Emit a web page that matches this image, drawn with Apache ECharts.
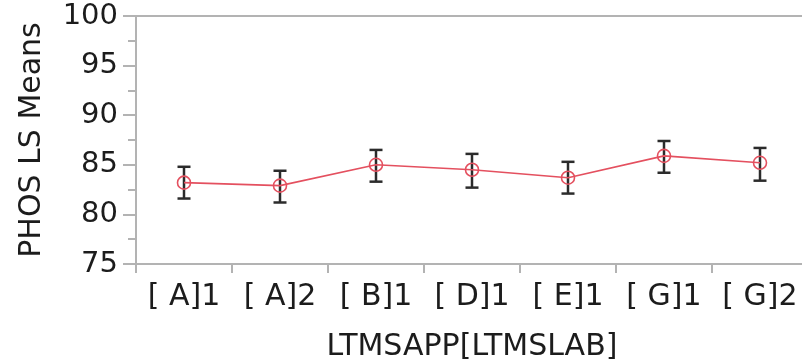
<!DOCTYPE html>
<html>
<head>
<meta charset="utf-8">
<script src="https://cdn.jsdelivr.net/npm/echarts@6/dist/echarts.min.js"></script>
<style>
  html, body { margin: 0; padding: 0; background: #fff; }
  #chart { width: 802px; height: 359px; }
</style>
</head>
<body>
<div id="chart"></div>
<script>
// LS means of PHOS per application/lab, with confidence intervals
var categories = ['[ A]1', '[ A]2', '[ B]1', '[ D]1', '[ E]1', '[ G]1', '[ G]2'];
var means = [83.2, 82.9, 85.0, 84.5, 83.7, 85.9, 85.2];
var lower = [81.6, 81.2, 83.3, 82.7, 82.1, 84.2, 83.4];
var upper = [84.8, 84.4, 86.5, 86.1, 85.3, 87.4, 86.7];

var FONT = '"DejaVu Sans", sans-serif';
var AXIS_GRAY = '#b3b3b3';
var TEXT = '#1c1c1c';

var errorData = categories.map(function (c, i) { return [i, lower[i], upper[i]]; });

var chart = echarts.init(document.getElementById('chart'), null, { renderer: 'canvas' });

chart.setOption({
  animation: false,
  grid: {
    left: 136, top: 16, width: 672, height: 248,
    outerBoundsMode: 'none',
    containLabel: false,
    show: true, borderColor: AXIS_GRAY, borderWidth: 2, backgroundColor: '#fff'
  },
  xAxis: {
    type: 'category',
    data: categories,
    boundaryGap: true,
    name: 'LTMSAPP[LTMSLAB]',
    nameLocation: 'middle',
    nameGap: 68,
    nameTextStyle: { fontFamily: FONT, fontSize: 30, color: TEXT },
    axisLine: { lineStyle: { color: AXIS_GRAY, width: 2 } },
    axisTick: { show: true, inside: false, length: 9, alignWithLabel: false, lineStyle: { color: AXIS_GRAY, width: 2 } },
    axisLabel: { fontFamily: FONT, fontSize: 30, color: TEXT, margin: 18, interval: 0 },
    splitLine: { show: false }
  },
  yAxis: {
    type: 'value',
    min: 75, max: 100, interval: 5,
    name: 'PHOS LS Means',
    nameLocation: 'middle',
    nameRotate: 90,
    nameGap: 89,
    nameTextStyle: { fontFamily: FONT, fontSize: 30, color: TEXT },
    axisLine: { show: true, lineStyle: { color: AXIS_GRAY, width: 2 } },
    axisTick: { show: true, inside: false, length: 13, lineStyle: { color: AXIS_GRAY, width: 2 } },
    minorTick: { show: true, splitNumber: 2, length: 8, lineStyle: { color: AXIS_GRAY, width: 2 } },
    axisLabel: { fontFamily: FONT, fontSize: 29, color: TEXT, margin: 18 },
    splitLine: { show: false }
  },
  series: [
    {
      type: 'custom',
      data: errorData,
      z: 3,
      renderItem: function (params, api) {
        var x = api.value(0);
        var lo = api.coord([x, api.value(1)]);
        var hi = api.coord([x, api.value(2)]);
        var half = 6.5;
        var style = { stroke: '#2b2b2b', lineWidth: 2.5 };
        return {
          type: 'group',
          children: [
            { type: 'line', shape: { x1: hi[0], y1: hi[1], x2: lo[0], y2: lo[1] }, style: style },
            { type: 'line', shape: { x1: hi[0] - half, y1: hi[1], x2: hi[0] + half, y2: hi[1] }, style: style },
            { type: 'line', shape: { x1: lo[0] - half, y1: lo[1], x2: lo[0] + half, y2: lo[1] }, style: style }
          ]
        };
      }
    },
    {
      type: 'line',
      data: means,
      z: 4,
      symbol: 'circle',
      symbolSize: 13,
      showAllSymbol: true,
      lineStyle: { color: '#e4505f', width: 1.6 },
      itemStyle: { color: 'rgba(255,255,255,0)', borderColor: '#e4505f', borderWidth: 1.6 }
    }
  ]
});
</script>
</body>
</html>
